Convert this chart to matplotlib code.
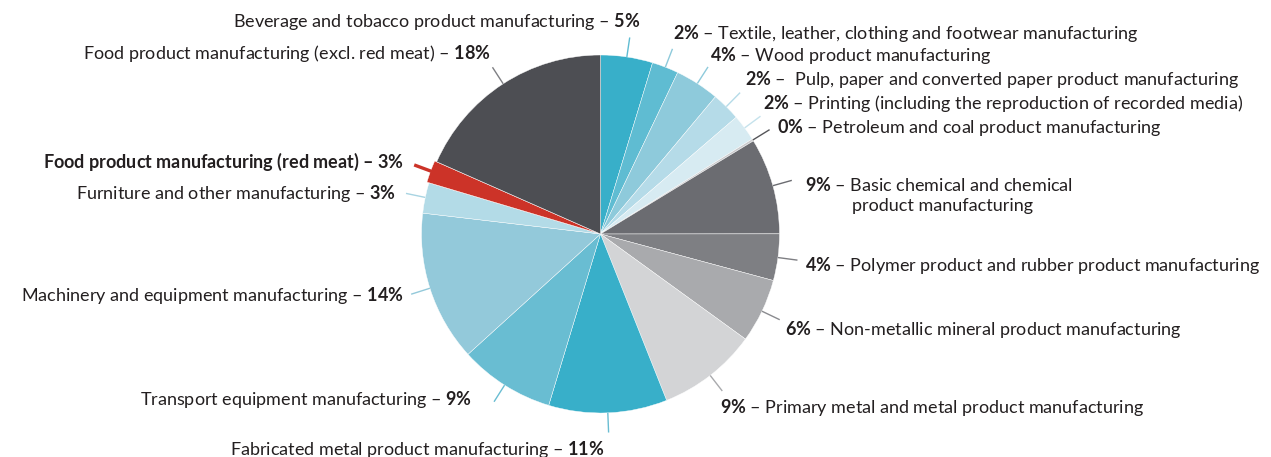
import numpy as np
import matplotlib.pyplot as plt

# fonts: Lato for text, bold percentages through mathtext
plt.rcParams['font.family'] = ['Lato', 'DejaVu Sans']
plt.rcParams['mathtext.fontset'] = 'custom'
plt.rcParams['mathtext.rm'] = 'Lato'
plt.rcParams['mathtext.bf'] = 'Lato:bold'

# sectors, clockwise from 12 o'clock
sectors = ['Beverage and tobacco product manufacturing',
           'Textile, leather, clothing and footwear manufacturing',
           'Wood product manufacturing',
           ' Pulp, paper and converted paper product manufacturing',
           'Printing (including the reproduction of recorded media)',
           'Petroleum and coal product manufacturing',
           'Basic chemical and chemical',
           'Polymer product and rubber product manufacturing',
           'Non-metallic mineral product manufacturing',
           'Primary metal and metal product manufacturing',
           'Fabricated metal product manufacturing',
           'Transport equipment manufacturing',
           'Machinery and equipment manufacturing',
           'Furniture and other manufacturing',
           'Food product manufacturing (red meat)',
           'Food product manufacturing (excl. red meat)']
# wedge sizes as drawn in the picture (%)
shares = [4.7, 2.4, 4.0, 2.6, 2.4, 0.2, 8.7, 4.2, 5.8, 9.0, 10.7, 8.6, 13.6, 2.75, 2.0, 18.4]
# printed percentages
pct_labels = ['5%', '2%', '4%', '2%', '2%', '0%', '9%', '4%', '6%', '9%',
              '11%', '9%', '14%', '3%', '3%', '18%']
highlight = 'Food product manufacturing (red meat)'

colors = ['#38afc9', '#5fbcd2', '#8ecadb', '#b5dbe8', '#d7ebf2', '#c9cacd',
          '#6b6c71', '#7e7f83', '#a9aaad', '#d3d4d6',
          '#38afc9', '#69bdd2', '#93c9da', '#b3dbe7', '#cc3328', '#4d4e53']
line_colors = ['#5fbcd2', '#8ecadb', '#8ecadb', '#b5dbe8', '#c5e2ec', '#555559',
               '#6b6c71', '#7e7f83', '#8a8b8f', '#a9aaad',
               '#69bdd2', '#69bdd2', '#93c9da', '#a8d4e2', '#cc3328', '#7e7f83']

# label anchors in pixels (x, y, alignment)
label_pos = [(641, 22, 'right'), (673, 33, 'left'), (710, 56, 'left'),
             (745, 80, 'left'), (763, 104, 'left'), (777, 128, 'left'),
             (805, 185, 'left'), (805, 266, 'left'), (785, 329, 'left'),
             (720, 407, 'left'), (605, 449, 'right'), (472, 400, 'right'),
             (404, 295, 'right'), (396, 194, 'right'), (404, 162, 'right'),
             (491, 53, 'right')]

W, H = 1271, 457
CX, CY, R = 600.5, 234, 179
FS = 13


def px(x, y):
    return (x - CX) / R, (CY - y) / R


fig = plt.figure(figsize=(W / 100, H / 100), dpi=100)
ax = fig.add_axes([0, 0, 1, 1])

explode = [0.012 if s == highlight else 0 for s in sectors]
ax.pie(shares, colors=colors, startangle=90, counterclock=False,
       explode=explode, radius=1,
       wedgeprops=dict(edgecolor='white', linewidth=0.3))

ax.set_xlim(-CX / R, (W - CX) / R)
ax.set_ylim(-(H - CY) / R, CY / R)
ax.set_aspect('equal')
ax.axis('off')

# leader lines and labels
cum = np.cumsum([0] + shares[:-1])
for i, name in enumerate(sectors):
    mid = np.radians((cum[i] + shares[i] / 2) * 3.6)
    r0, r1 = 1.0, 1.11
    red = name == highlight
    ax.plot([r0 * np.sin(mid), r1 * np.sin(mid)],
            [r0 * np.cos(mid), r1 * np.cos(mid)],
            color=line_colors[i], lw=2.4 if red else 1.0, solid_capstyle='butt')

    pct = r'$\mathbf{' + pct_labels[i].replace('%', r'\%') + '}$'
    x, y, ha = label_pos[i]
    if ha == 'right':
        txt = name + ' – ' + pct
    else:
        txt = pct + ' – ' + name
    ax.text(*px(x, y), txt, ha=ha, va='center', fontsize=FS, color='#231f20',
            fontweight='bold' if red else 'normal')

# second line of the chemical label
ax.text(*px(852, 206), 'product manufacturing', ha='left', va='center',
        fontsize=FS, color='#231f20')

fig.savefig('out.png', dpi=100)
